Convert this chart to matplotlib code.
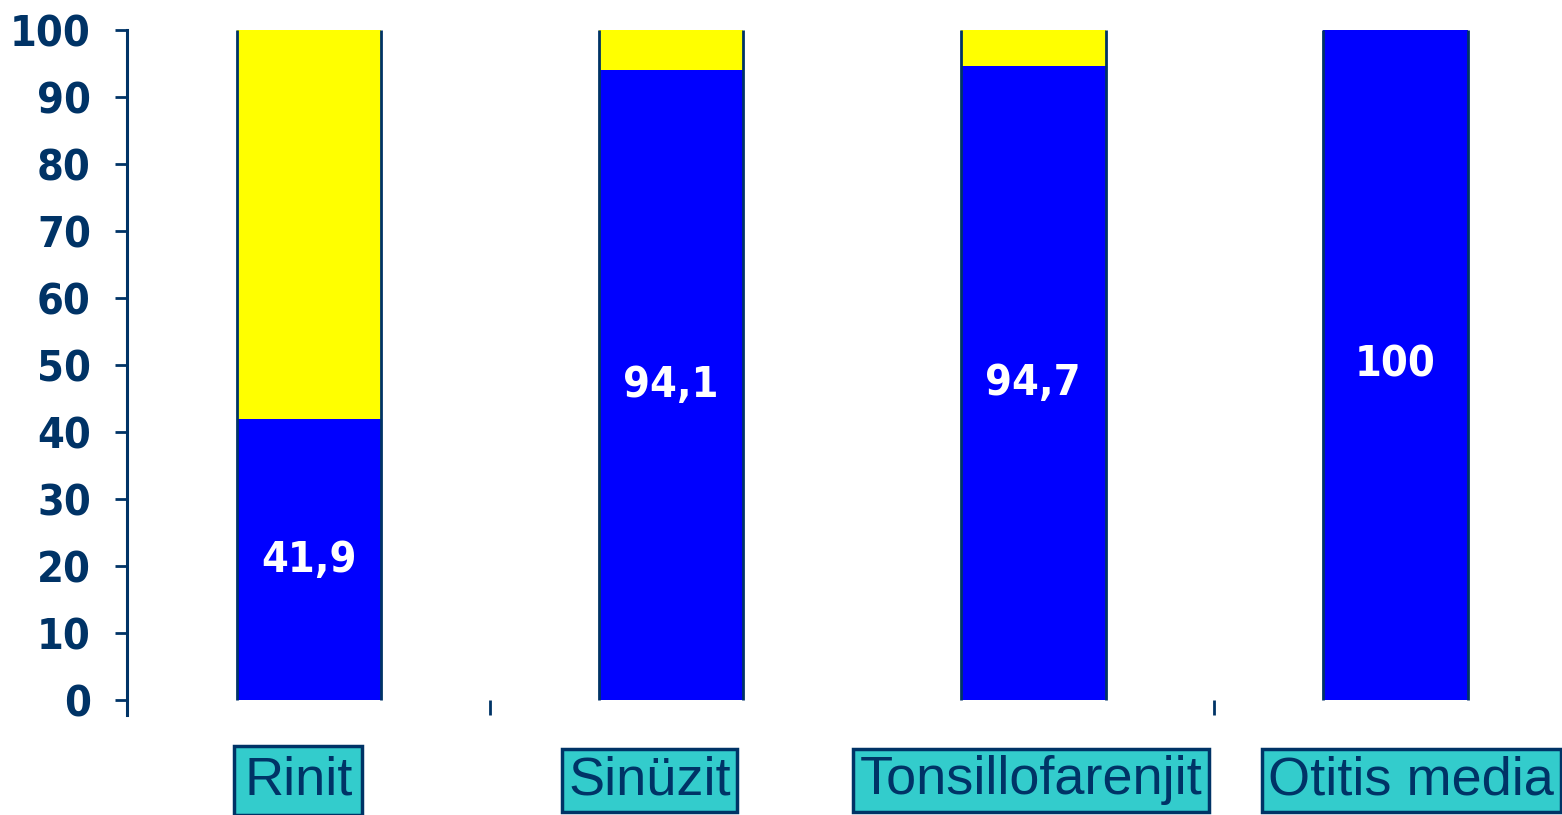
import matplotlib.pyplot as plt

# stacked percentages per diagnosis
categories = ['Rinit', 'Sinüzit', 'Tonsillofarenjit', 'Otitis media']
blue_vals = [41.9, 94.1, 94.7, 100]
yellow_vals = [100 - v for v in blue_vals]
value_labels = ['41,9', '94,1', '94,7', '100']
yticks = list(range(0, 101, 10))

NAVY = '#003366'
BLUE = '#0000FF'
YELLOW = '#FFFF00'
TEAL = '#33CCCC'

fig = plt.figure(figsize=(15.62, 8.15), dpi=100)
ax = fig.add_axes([127 / 1562, 100 / 815, 1 - 127 / 1562, 685 / 815])

x = list(range(len(categories)))
w = 0.40
ax.bar(x, blue_vals, width=w, color=BLUE, edgecolor='none')
ax.bar(x, yellow_vals, width=w, bottom=blue_vals, color=YELLOW, edgecolor='none')
# dark outline only on the sides of each column
for xi in x:
    ax.vlines([xi - w / 2, xi + w / 2], 0, 100, colors=NAVY, lw=2)

for xi, v, lab in zip(x, blue_vals, value_labels):
    ax.text(xi, v / 2, lab, ha='center', va='center', color='white',
            fontsize=31, fontweight='bold', family='DejaVu Sans',
            fontstretch='condensed')

# label boxes sit a little off-centre under the columns
label_shift = [-0.03, -0.06, -0.005, 0.045]
label_pad = [0.18, 0.12, 0.12, 0.12]
for xi, cat, dx, pad in zip(x, categories, label_shift, label_pad):
    ax.text(xi + dx, -12, cat, ha='center', va='center', color=NAVY,
            fontsize=39, family='Liberation Sans', clip_on=False,
            bbox=dict(boxstyle=f'square,pad={pad}', fc=TEAL, ec=NAVY, lw=2.5))

ax.set_xlim(-0.503, 3.461)
ax.set_ylim(-2.24, 100)
ax.set_yticks(yticks)
ax.set_yticklabels([str(t) for t in yticks])
ax.set_xticks([0.5, 2.5])
ax.set_xticklabels([])

for s in ['top', 'right', 'bottom']:
    ax.spines[s].set_visible(False)
ax.spines['left'].set_color(NAVY)
ax.spines['left'].set_linewidth(2.2)
ax.spines['left'].set_bounds(-2.24, 100)

ax.tick_params(axis='y', direction='out', length=9, width=2, color=NAVY,
               labelcolor=NAVY, labelsize=31, pad=17)
for t in ax.get_yticklabels():
    t.set_fontweight('bold')
    t.set_fontstretch('condensed')
ax.tick_params(axis='x', direction='in', length=11, width=2, color=NAVY)

fig.savefig('out.png', dpi=100)
